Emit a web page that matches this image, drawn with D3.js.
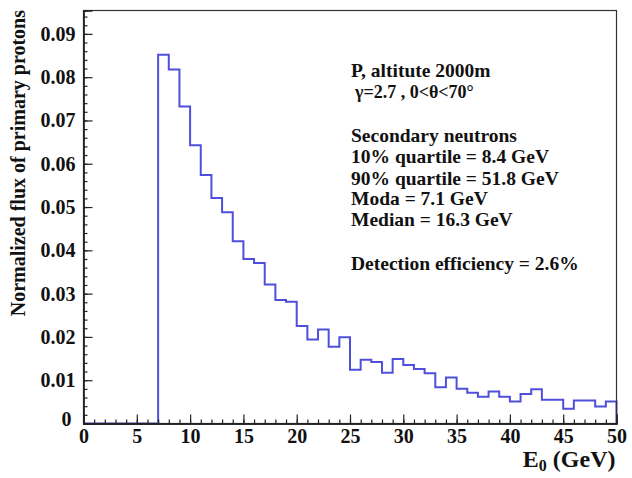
<!DOCTYPE html>
<html>
<head>
<meta charset="utf-8">
<script src="https://cdn.jsdelivr.net/npm/d3@7"></script>
<style>
  html, body { margin: 0; padding: 0; background: #fff; }
  svg { display: block; }
  text { font-family: "Liberation Serif", "Times New Roman", serif; fill: #111; }
</style>
</head>
<body>
<svg id="chart" width="632" height="478"></svg>
<script>
// Histogram of secondary-neutron primaries: 1 GeV bins from 0 to 50 GeV
const binEdges = d3.range(0, 51);          // 0,1,...,50
const binValues = [
  0, 0, 0, 0, 0, 0, 0,
  0.0852, 0.0818, 0.0732, 0.0643, 0.0574, 0.0521, 0.0488, 0.0421, 0.0380, 0.0371,
  0.0321, 0.0285, 0.0281, 0.0225, 0.0194, 0.0217, 0.0177, 0.0199, 0.0124, 0.0147,
  0.0142, 0.0117, 0.0149, 0.0135, 0.0126, 0.0116, 0.0084, 0.0106, 0.0080, 0.0071,
  0.0062, 0.0074, 0.0062, 0.0051, 0.0068, 0.0079, 0.0055, 0.0055, 0.0034, 0.0053,
  0.0053, 0.0039, 0.0051
];
const xMajorTicks = [0, 5, 10, 15, 20, 25, 30, 35, 40, 45, 50];
const xMinorTicks = d3.range(0, 51, 1);
const yMajorTicks = [0, 0.01, 0.02, 0.03, 0.04, 0.05, 0.06, 0.07, 0.08, 0.09];
const yMinorTicks = d3.range(0, 0.0951, 0.002);
const yTickLabels = ["0", "0.01", "0.02", "0.03", "0.04", "0.05", "0.06", "0.07", "0.08", "0.09"];
const infoLines = [
  "Secondary neutrons",
  "10% quartile = 8.4 GeV",
  "90% quartile = 51.8 GeV",
  "Moda = 7.1 GeV",
  "Median = 16.3 GeV"
];

const svg = d3.select("#chart");
const pLeft = 83.5, pRight = 616.5, pTop = 10.5, pBottom = 423.5;

const x = d3.scaleLinear().domain([0, 50]).range([pLeft, pRight]);
const y = d3.scaleLinear().domain([0, 0.0954]).range([pBottom, pTop]);

svg.append("rect").attr("width", 632).attr("height", 478).attr("fill", "#fff");

// histogram outline (step line, dropping to zero at the last edge)
const pts = binValues.map((v, i) => [binEdges[i], v]);
pts.push([50, binValues[binValues.length - 1]]);
pts.push([50, 0]);
const line = d3.line()
  .x(d => x(d[0]))
  .y(d => y(d[1]))
  .curve(d3.curveStepAfter);
svg.append("path")
  .datum(pts)
  .attr("d", line)
  .attr("fill", "none")
  .attr("stroke", "#4f4fdc")
  .attr("stroke-width", 2);

// frame
svg.append("rect")
  .attr("x", pLeft).attr("y", pTop)
  .attr("width", pRight - pLeft).attr("height", pBottom - pTop)
  .attr("fill", "none").attr("stroke", "#333").attr("stroke-width", 1.2);

// axes: minor ticks first, then major ticks with labels
const xMinor = d3.axisBottom(x).tickValues(xMinorTicks).tickSize(-4).tickFormat("");
const xMajor = d3.axisBottom(x).tickValues(xMajorTicks).tickSize(-9).tickPadding(5)
  .tickFormat(d3.format("d"));
const yMinor = d3.axisLeft(y).tickValues(yMinorTicks).tickSize(-4).tickFormat("");
const yMajor = d3.axisLeft(y).tickValues(yMajorTicks).tickSize(-9).tickPadding(8)
  .tickFormat((d, i) => yTickLabels[i]);

function styleAxis(g) {
  g.select(".domain").attr("stroke", "#222").attr("stroke-width", 1.3);
  g.selectAll(".tick line").attr("stroke", "#222").attr("stroke-width", 1.2);
  g.selectAll(".tick text")
    .style("font-family", '"Liberation Serif", "Times New Roman", serif')
    .style("font-weight", "bold")
    .style("font-size", "20px")
    .attr("fill", "#111");
}

svg.append("g").attr("transform", `translate(0,${pBottom})`).call(xMinor).call(styleAxis);
svg.append("g").attr("transform", `translate(0,${pBottom})`).call(xMajor).call(styleAxis);
svg.append("g").attr("transform", `translate(${pLeft},0)`).call(yMinor).call(styleAxis);
const yg = svg.append("g").attr("transform", `translate(${pLeft},0)`).call(yMajor).call(styleAxis);
// the zero label sits a little lower and further out
yg.selectAll(".tick text").filter(d => d === 0).attr("dy", "0.1em").attr("x", -12);

// axis titles
const xt = svg.append("text")
  .attr("x", pRight - 1).attr("y", 467)
  .attr("text-anchor", "end")
  .style("font-weight", "bold").style("font-size", "24px");
xt.append("tspan").text("E");
xt.append("tspan").attr("dy", 4).style("font-size", "16px").text("0");
xt.append("tspan").attr("dy", -4).text(" (GeV)");

svg.append("text")
  .attr("transform", `translate(25,${pTop - 0.5}) rotate(-90)`)
  .attr("text-anchor", "end")
  .style("font-weight", "bold").style("font-size", "20px")
  .text("Normalized flux of primary protons");

// annotation block
const info = svg.append("g").style("font-weight", "bold").style("font-size", "19.5px");
info.append("text").attr("x", 351).attr("y", 77).text("P, altitute 2000m");
info.append("text").attr("x", 355).attr("y", 98).style("font-size", "18px")
  .text("\u03b3=2.7 , 0<\u03b8<70\u00b0");
infoLines.forEach((t, i) => {
  info.append("text").attr("x", 351).attr("y", [142, 163, 185, 205, 226][i]).text(t);
});
info.append("text").attr("x", 351).attr("y", 270).text("Detection efficiency = 2.6%");
</script>
</body>
</html>
